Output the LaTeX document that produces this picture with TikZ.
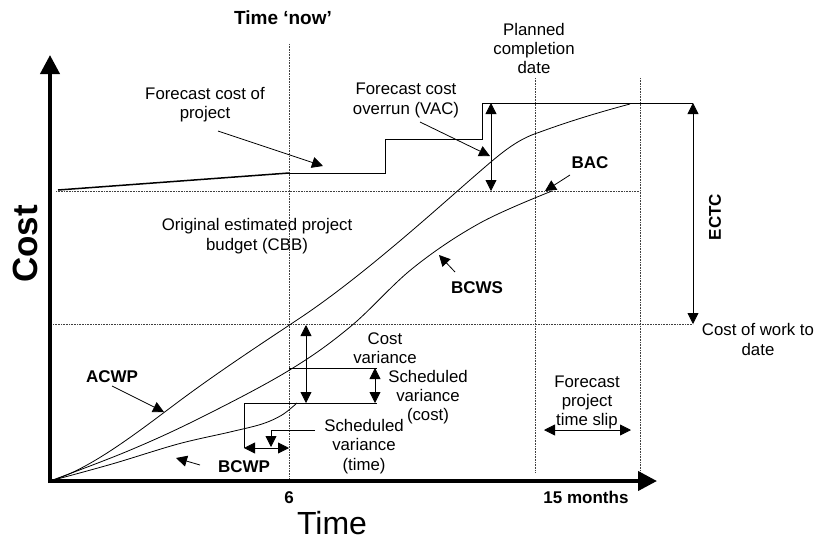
\documentclass[tikz,border=0pt]{standalone}
\usepackage{fontspec}
\setmainfont{Liberation Sans}
\usetikzlibrary{arrows.meta}
\begin{document}
\begin{tikzpicture}[x=1pt,y=-1pt,
  lbl/.style={font=\fontsize{16.8}{19.3}\selectfont, align=center, inner sep=0pt},
  blbl/.style={font=\fontsize{17}{19}\selectfont\bfseries, inner sep=0pt},
  gridline/.style={densely dotted, line width=0.6pt, black!75},
  curve/.style={line width=0.8pt},
  ptr/.style={line width=0.8pt, -{Triangle[length=11pt,width=11pt]}},
  dptr/.style={line width=0.8pt, {Triangle[length=11pt,width=11pt]}-{Triangle[length=11pt,width=11pt]}},
  axisline/.style={line width=4pt, -{Triangle[length=19pt,width=19pt]}}
]
\useasboundingbox (0,0) rectangle (817,542);

% axes
\coordinate (O) at (50,481);
\coordinate (ybot) at (50,483);
\coordinate (ytop) at (50,55);
\coordinate (xbeg) at (48,481);
\coordinate (xend) at (657,481);

% grid
\coordinate (g1a) at (289,44);  \coordinate (g1b) at (289,478);
\coordinate (g2a) at (535,78);  \coordinate (g2b) at (535,473);
\coordinate (g3a) at (640,78);  \coordinate (g3b) at (640,476);
\coordinate (h1a) at (56,191);  \coordinate (h1b) at (640,191);
\coordinate (h2a) at (53,324);  \coordinate (h2b) at (693,324);
\draw[gridline] (g1a) -- (g1b);
\draw[gridline] (g2a) -- (g2b);
\draw[gridline] (g3a) -- (g3b);
\draw[gridline] (h1a) -- (h1b);
\draw[gridline] (h2a) -- (h2b);

\draw[axisline] (ybot) -- (ytop);
\draw[axisline] (xbeg) -- (xend);

% forecast cost line
\coordinate (f0) at (58,190);
\coordinate (f1) at (289,173);
\coordinate (f2) at (385,173);
\coordinate (f3) at (385,139);
\coordinate (f4) at (482,139);
\coordinate (f5) at (482,103);
\coordinate (f6) at (693,103);
\draw[line width=1.5pt] (f0) -- (f1);
\draw[line width=1pt] (f1) -- (f2) -- (f3) -- (f4) -- (f5) -- (f6);

% curves
\coordinate (a0) at (50,481);
\coordinate (a1) at (170,408);
\coordinate (a2) at (300,318);
\coordinate (a3) at (470,180);
\coordinate (a4) at (540,132);
\coordinate (a5) at (630,104);
\draw[curve] (a0) .. controls (85,471) and (125,442) .. (a1)
  .. controls (215,374) and (258,346) .. (a2)
  .. controls (360,278) and (430,215) .. (a3)
  .. controls (500,154) and (515,140) .. (a4)
  .. controls (570,121) and (600,112) .. (a5);
\draw[curve] plot[smooth, tension=0.6] coordinates {(50,481) (128,451) (200,418) (288,371) (350,327) (413,268) (480,223) (552,191)};
\draw[curve] plot[smooth, tension=0.55] coordinates {(50,481) (112,464) (178,444) (230,432) (262,424) (282,415) (297,403)};

% ECTC and VAC arrows
\coordinate (ecT) at (693,103); \coordinate (ecB) at (693,324);
\draw[dptr] (ecT) -- (ecB);
\coordinate (vaT) at (491,103); \coordinate (vaB) at (491,191);
\draw[dptr] (vaT) -- (vaB);

% variance construction
\coordinate (cvT) at (306,325); \coordinate (cvB) at (306,403);
\coordinate (la) at (289,368); \coordinate (lb) at (377,368);
\coordinate (lc) at (244,403); \coordinate (ld) at (377,403);
\coordinate (le) at (244,448); \coordinate (lf) at (289,448);
\coordinate (svT) at (375,368); \coordinate (svB) at (375,403);
\draw[line width=0.8pt] (la) -- (lb);
\draw[line width=0.8pt] (lc) -- (ld);
\draw[line width=0.8pt] (lc) -- (le);
\draw[dptr] (cvT) -- (cvB);
\draw[dptr] (svT) -- (svB);
\draw[dptr] (le) -- (lf);
\coordinate (sp0) at (315,430); \coordinate (sp1) at (271,430); \coordinate (sp2) at (271,447);
\draw[ptr] (sp0) -- (sp1) -- (sp2);

% time slip
\coordinate (tsL) at (544,430); \coordinate (tsR) at (631,430);
\draw[dptr] (tsL) -- (tsR);

% labels
\node[font=\fontsize{19}{21}\selectfont\bfseries, inner sep=0pt] (now) at (283,18) {Time ‘now’};
\node[lbl] (fcp) at (205,104.5) {Forecast cost of\\project};
\node[lbl] (vac) at (406,100.5) {Forecast cost\\overrun (VAC)};
\node[lbl] (pcd) at (534,48.5) {Planned\\completion\\date};
\node[blbl] (bac) at (590,163) {BAC};
\node[blbl, rotate=90] (ectc) at (715,217) {ECTC};
\node[lbl] (cbb) at (257,236) {Original estimated project\\budget (CBB)};
\node[blbl] (bcws) at (477,288) {BCWS};
\node[lbl] (cwd) at (758,339.5) {Cost of work to\\date};
\node[lbl] (cv) at (385,348.5) {Cost\\variance};
\node[lbl] (svc) at (428,397) {Scheduled\\variance\\(cost)};
\node[lbl] (svt) at (364,446.5) {Scheduled\\variance\\(time)};
\node[blbl] (acwp) at (112,377) {ACWP};
\node[blbl] (bcwp) at (244,467) {BCWP};
\node[lbl] (slip) at (587,402.5) {Forecast\\project\\time slip};
\node[blbl] (six) at (289,498) {6};
\node[blbl] (fifteen) at (586,497) {15 months};
\node[font=\fontsize{32}{34}\selectfont, inner sep=0pt] (time) at (332,523) {Time};
\node[font=\fontsize{35}{37}\selectfont\bfseries, inner sep=0pt, rotate=90] (cost) at (25,244) {Cost};

% pointers
\coordinate (p1a) at (218,131); \coordinate (p1b) at (323,166);
\coordinate (p2a) at (420,122); \coordinate (p2b) at (490,156);
\coordinate (p3a) at (570,175); \coordinate (p3b) at (545,191);
\coordinate (p4a) at (455,272); \coordinate (p4b) at (439,255);
\coordinate (p5a) at (112,386); \coordinate (p5b) at (164,412);
\coordinate (p6a) at (200,465); \coordinate (p6b) at (176,458);
\draw[ptr] (p1a) -- (p1b);
\draw[ptr] (p2a) -- (p2b);
\draw[ptr] (p3a) -- (p3b);
\draw[ptr] (p4a) -- (p4b);
\draw[ptr] (p5a) -- (p5b);
\draw[ptr] (p6a) -- (p6b);
\end{tikzpicture}
\end{document}
